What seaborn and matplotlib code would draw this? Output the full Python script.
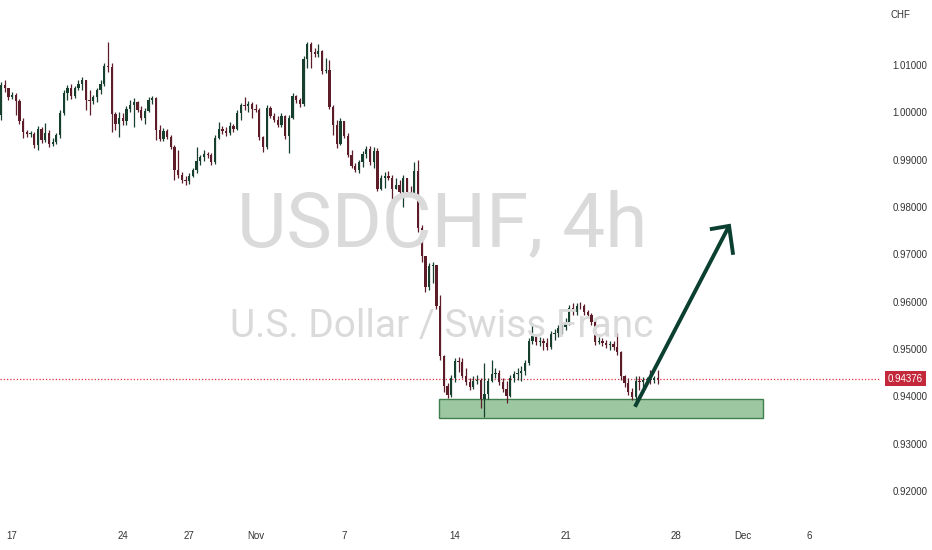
import numpy as np
import pandas as pd
import matplotlib
matplotlib.use("Agg")
import matplotlib.pyplot as plt
import matplotlib.transforms as mtransforms
import seaborn as sns

# USDCHF 4h candles, 14 Oct - 25 Nov 2022
first_open = 0.9994
closes = [
    1.0057, 1.0051, 1.0032, 1.0036, 1.0024, 0.9982, 0.9959, 0.9955, 0.9955, 0.9931,
    0.9965, 0.9942, 0.9957, 0.9934, 0.9938, 0.9952, 0.9999, 1.0041, 1.0051, 1.0034,
    1.0051, 1.0060, 1.0068, 1.0026, 1.0024, 1.0032, 1.0047, 1.0060, 1.0098, 1.0096,
    0.9996, 0.9976, 0.9988, 0.9982, 1.0007, 1.0015, 1.0022, 1.0005, 0.9988, 1.0003,
    1.0026, 1.0030, 0.9963, 0.9944, 0.9961, 0.9948, 0.9927, 0.9878, 0.9867, 0.9857,
    0.9855, 0.9865, 0.9878, 0.9897, 0.9905, 0.9912, 0.9910, 0.9895, 0.9946, 0.9965,
    0.9961, 0.9957, 0.9971, 0.9965, 0.9999, 1.0015, 1.0013, 1.0018, 1.0007, 1.0005,
    0.9948, 0.9927, 1.0009, 0.9992, 0.9984, 0.9973, 0.9992, 0.9950, 0.9988, 1.0034,
    1.0026, 1.0018, 1.0113, 1.0144, 1.0127, 1.0123, 1.0130, 1.0087, 1.0089, 1.0011,
    0.9973, 0.9934, 0.9982, 0.9950, 0.9910, 0.9886, 0.9878, 0.9895, 0.9912, 0.9922,
    0.9895, 0.9918, 0.9838, 0.9861, 0.9865, 0.9861, 0.9838, 0.9846, 0.9832, 0.9861,
    0.9832, 0.9830, 0.9876, 0.9756, 0.9696, 0.9631, 0.9675, 0.9677, 0.9591, 0.9485,
    0.9422, 0.9403, 0.9439, 0.9474, 0.9472, 0.9443, 0.9430, 0.9419, 0.9432, 0.9434,
    0.9394, 0.9405, 0.9432, 0.9447, 0.9449, 0.9430, 0.9415, 0.9400, 0.9439, 0.9447,
    0.9449, 0.9453, 0.9470, 0.9517, 0.9527, 0.9515, 0.9517, 0.9512, 0.9504, 0.9531,
    0.9534, 0.9544, 0.9546, 0.9557, 0.9586, 0.9578, 0.9591, 0.9590, 0.9578, 0.9572,
    0.9557, 0.9515, 0.9517, 0.9512, 0.9508, 0.9510, 0.9504, 0.9493, 0.9443, 0.9428,
    0.9409, 0.9398, 0.9432, 0.9430, 0.9434, 0.9436, 0.9435, 0.9439, 0.94376,
]
highs = [
    1.0064, 1.0068, 1.0051, 1.0043, 1.0041, 1.0028, 0.9988, 0.9963, 0.9961, 0.9959,
    0.9971, 0.9969, 0.9978, 0.9963, 0.9946, 0.9957, 1.0005, 1.0047, 1.0057, 1.0060,
    1.0055, 1.0068, 1.0074, 1.0068, 1.0047, 1.0036, 1.0051, 1.0068, 1.0104, 1.0149,
    1.0104, 1.0001, 1.0001, 0.9999, 1.0013, 1.0026, 1.0030, 1.0024, 1.0013, 1.0009,
    1.0032, 1.0034, 1.0032, 0.9973, 0.9967, 0.9965, 0.9952, 0.9931, 0.9920, 0.9874,
    0.9865, 0.9872, 0.9882, 0.9927, 0.9910, 0.9920, 0.9916, 0.9914, 0.9952, 0.9980,
    0.9971, 0.9969, 0.9980, 0.9976, 1.0005, 1.0020, 1.0032, 1.0024, 1.0022, 1.0018,
    1.0009, 0.9950, 1.0015, 1.0013, 0.9999, 0.9992, 0.9999, 0.9994, 0.9994, 1.0041,
    1.0036, 1.0030, 1.0119, 1.0149, 1.0149, 1.0136, 1.0144, 1.0132, 1.0115, 1.0111,
    1.0015, 0.9984, 0.9988, 0.9980, 0.9957, 0.9920, 0.9893, 0.9899, 0.9918, 0.9929,
    0.9929, 0.9927, 0.9925, 0.9867, 0.9874, 0.9876, 0.9867, 0.9861, 0.9857, 0.9867,
    0.9857, 0.9844, 0.9895, 0.9899, 0.9762, 0.9692, 0.9682, 0.9684, 0.9675, 0.9614,
    0.9487, 0.9428, 0.9445, 0.9481, 0.9483, 0.9481, 0.9460, 0.9439, 0.9443, 0.9445,
    0.9439, 0.9470, 0.9439, 0.9476, 0.9460, 0.9455, 0.9439, 0.9432, 0.9445, 0.9453,
    0.9460, 0.9464, 0.9476, 0.9523, 0.9555, 0.9529, 0.9525, 0.9523, 0.9523, 0.9538,
    0.9542, 0.9551, 0.9557, 0.9565, 0.9593, 0.9597, 0.9597, 0.9599, 0.9595, 0.9582,
    0.9576, 0.9565, 0.9525, 0.9523, 0.9519, 0.9517, 0.9517, 0.9534, 0.9495, 0.9445,
    0.9439, 0.9417, 0.9443, 0.9443, 0.9441, 0.9441, 0.9455, 0.9443, 0.9455,
]
lows = [
    0.9984, 1.0043, 1.0026, 1.0028, 0.9994, 0.9976, 0.9946, 0.9948, 0.9948, 0.9925,
    0.9920, 0.9936, 0.9938, 0.9927, 0.9929, 0.9934, 0.9946, 0.9994, 1.0026, 1.0028,
    1.0030, 1.0047, 1.0047, 1.0005, 0.9994, 1.0018, 1.0022, 1.0039, 1.0055, 1.0085,
    0.9959, 0.9963, 0.9948, 0.9973, 0.9973, 1.0001, 0.9969, 1.0001, 0.9984, 0.9976,
    1.0001, 1.0018, 0.9942, 0.9940, 0.9940, 0.9944, 0.9923, 0.9857, 0.9861, 0.9851,
    0.9846, 0.9848, 0.9863, 0.9872, 0.9889, 0.9897, 0.9903, 0.9889, 0.9891, 0.9944,
    0.9955, 0.9950, 0.9952, 0.9959, 0.9963, 0.9984, 1.0005, 1.0001, 0.9988, 1.0001,
    0.9942, 0.9916, 0.9923, 0.9988, 0.9980, 0.9969, 0.9969, 0.9944, 0.9914, 0.9986,
    1.0020, 1.0011, 1.0013, 1.0094, 1.0094, 1.0117, 1.0117, 1.0081, 1.0083, 1.0007,
    0.9952, 0.9925, 0.9930, 0.9946, 0.9905, 0.9882, 0.9874, 0.9872, 0.9884, 0.9903,
    0.9889, 0.9882, 0.9834, 0.9836, 0.9840, 0.9857, 0.9815, 0.9840, 0.9825, 0.9800,
    0.9827, 0.9825, 0.9823, 0.9747, 0.9684, 0.9620, 0.9624, 0.9639, 0.9584, 0.9476,
    0.9409, 0.9396, 0.9398, 0.9430, 0.9451, 0.9439, 0.9424, 0.9413, 0.9415, 0.9426,
    0.9375, 0.9356, 0.9394, 0.9430, 0.9439, 0.9424, 0.9409, 0.9386, 0.9398, 0.9430,
    0.9434, 0.9432, 0.9445, 0.9466, 0.9510, 0.9508, 0.9506, 0.9498, 0.9498, 0.9500,
    0.9519, 0.9525, 0.9532, 0.9540, 0.9551, 0.9572, 0.9572, 0.9584, 0.9572, 0.9565,
    0.9551, 0.9508, 0.9510, 0.9506, 0.9502, 0.9498, 0.9498, 0.9487, 0.9434, 0.9419,
    0.9403, 0.9392, 0.9390, 0.9413, 0.9419, 0.9426, 0.9426, 0.9428, 0.9426,
]

tick_dates = ["2022-10-17", "2022-10-24", "2022-10-27", "2022-11-01", "2022-11-07",
              "2022-11-14", "2022-11-21", "2022-11-28", "2022-12-01", "2022-12-06"]
tick_labels = ["17", "24", "27", "Nov", "7", "14", "21", "28", "Dec", "6"]
price_ticks = [0.92, 0.93, 0.94, 0.95, 0.96, 0.97, 0.98, 0.99, 1.00, 1.01]
last_price = 0.94376

# drawings (in bar numbers / price): support zone and projected move
zone_bars = (118.7, 206.5)
zone_prices = (0.9354, 0.9394)
arrow_start = (171.8, 0.9378)
arrow_tip = (197.3, 0.9760)
arrow_head_left = (192.1, 0.9753)
arrow_head_right = (198.4, 0.9699)

up_color = "#163f2e"
down_color = "#5c1c28"
draw_color = "#0b3f30"

# 4h slots on weekdays only (no weekend gaps, like the original)
slots = pd.date_range("2022-10-14 12:00", periods=420, freq="4h")
slots = slots[slots.dayofweek < 5]


def slot_pos(ts):
    return float(np.searchsorted(slots, pd.Timestamp(ts)))


df = pd.DataFrame({"close": closes, "high": highs, "low": lows})
df["open"] = [first_open] + closes[:-1]
df["high"] = df[["high", "open", "close"]].max(axis=1)
df["low"] = df[["low", "open", "close"]].min(axis=1)
df["pos"] = np.arange(len(df))
df["up"] = df["close"] >= df["open"]

sns.set_theme(style="white")
plt.rcParams["font.family"] = ["Liberation Sans", "DejaVu Sans"]

fig = plt.figure(figsize=(9.32, 5.5), dpi=100)
ax = fig.add_axes([0, 30 / 550, 880 / 932, 520 / 550])
ax.patch.set_alpha(0)

# watermark
fig.text(442 / 932, 1 - 247 / 550, "USDCHF, 4h", ha="center", va="baseline",
         fontsize=55, color="#dadada", zorder=0, family=["Roboto", "DejaVu Sans"])
fig.text(442 / 932, 1 - 337 / 550, "U.S. Dollar / Swiss Franc", ha="center",
         va="baseline", fontsize=28, color="#dadada", zorder=0,
         family=["Roboto", "DejaVu Sans"])

colors = np.where(df["up"], up_color, down_color)
ax.vlines(df["pos"], df["low"], df["high"], colors=colors, lw=0.9, zorder=3)
body = np.maximum((df["close"] - df["open"]).abs(), 0.00005)
ax.bar(df["pos"], body, bottom=df[["open", "close"]].min(axis=1), width=0.62,
       color=colors, linewidth=0, zorder=4)

# support zone
ax.add_patch(plt.Rectangle((zone_bars[0], zone_prices[0]),
                           zone_bars[1] - zone_bars[0],
                           zone_prices[1] - zone_prices[0],
                           facecolor=(0.30, 0.60, 0.33, 0.55),
                           edgecolor="#3f7f4c", lw=1, zorder=2))

# projected move arrow
ax.plot([arrow_start[0], arrow_tip[0]], [arrow_start[1], arrow_tip[1]],
        color=draw_color, lw=2.8, solid_capstyle="butt", zorder=6)
ax.plot([arrow_head_left[0], arrow_tip[0], arrow_head_right[0]],
        [arrow_head_left[1], arrow_tip[1], arrow_head_right[1]],
        color=draw_color, lw=2.8, solid_joinstyle="miter", solid_capstyle="butt",
        zorder=6)

# last price line and label
ax.axhline(last_price, color="#e0303f", lw=0.9, ls=(0, (1, 1.6)), zorder=1)
trans = mtransforms.blended_transform_factory(ax.transAxes, ax.transData)
ax.text(1.0085, last_price, f"{last_price:.5f}", transform=trans, ha="left",
        va="center", fontsize=7, color="white", zorder=10, clip_on=False,
        bbox=dict(boxstyle="square,pad=0.3", facecolor="#c4283b", edgecolor="none"))

ax.set_xlim(-0.27, 238.2)
ax.set_ylim(0.91387, 1.02373)

ax.yaxis.tick_right()
ax.set_yticks(price_ticks)
ax.set_yticklabels([f"{p:.5f}" for p in price_ticks])
ax.set_xticks([slot_pos(d) for d in tick_dates])
ax.set_xticklabels(tick_labels)
ax.tick_params(axis="both", length=0, labelsize=7, colors="#333333")
ax.tick_params(axis="y", pad=9)
ax.tick_params(axis="x", pad=8)
for s in ax.spines.values():
    s.set_visible(False)
ax.grid(False)

fig.text(900 / 932, 1 - 15 / 550, "CHF", ha="center", va="center",
         fontsize=7, color="#333333")

fig.savefig("out.png", dpi=100, facecolor="white")
